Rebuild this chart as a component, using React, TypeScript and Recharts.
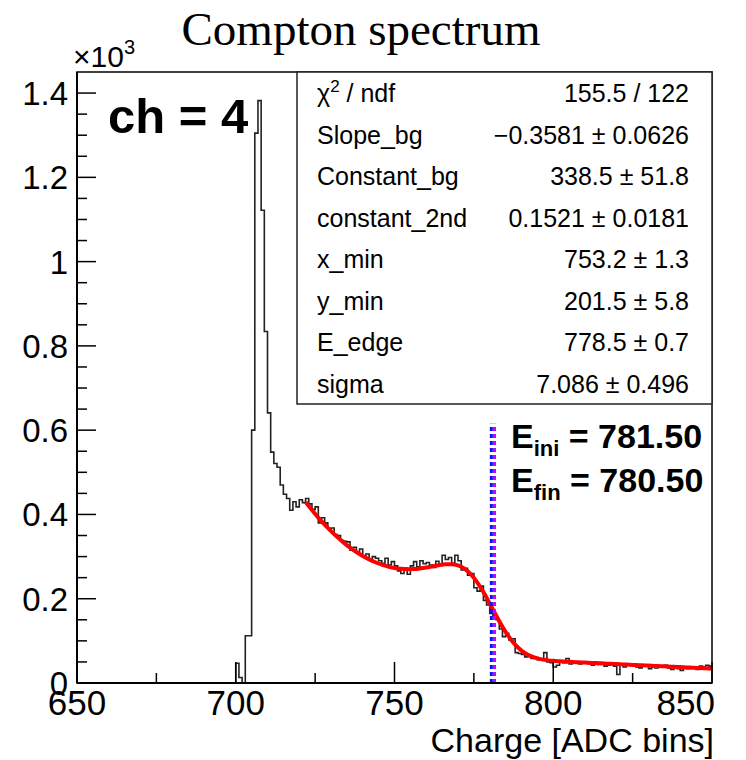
import { ComposedChart, Line, ReferenceLine, XAxis, YAxis } from "recharts";

// histogram: one value per 1-ADC bin, first bin starts at HIST_START
const HIST_START = 699;
const COUNTS = [
  0, 47, 13, 0, 112, 112, 600, 1305, 1382, 1122, 834, 641, 548, 521, 512, 470, 448, 438, 410, 430,
  418, 435, 428, 438, 425, 412, 418, 380, 392, 380, 365, 368, 352, 350, 338, 336, 335, 315, 322, 308,
  318, 300, 306, 292, 300, 296, 290, 284, 296, 280, 288, 278, 266, 260, 273, 258, 278, 288, 276, 290,
  283, 286, 280, 274, 289, 279, 303, 293, 298, 284, 303, 290, 268, 272, 256, 260, 226, 218, 230, 196,
  185, 165, 160, 150, 128, 110, 118, 102, 105, 72, 70, 68, 62, 65, 58, 60, 55, 57, 72, 50,
  48, 38, 42, 52, 48, 58, 45, 50, 48, 45, 50, 48, 46, 42, 50, 44, 47, 40, 42, 45,
  40, 20, 42, 38, 44, 45, 40, 38, 36, 40, 42, 34, 38, 36, 40, 38, 42, 36, 32, 38,
  34, 30, 36, 34, 38, 36, 32, 40, 38, 42, 40,
];

// fitted curve, sampled every 2 ADC bins from FIT_START
const FIT_START = 722;
const FIT = [
  429.5, 410.4, 392.5, 375.9, 360.5, 346.3, 333.2, 321.4, 310.8, 301.5, 293.4, 286.5, 280.8, 276.2,
  273.0, 270.9, 270.0, 270.3, 271.7, 273.9, 276.8, 279.6, 281.8, 282.1, 279.1, 271.6, 258.4, 239.6,
  215.7, 188.5, 160.3, 133.5, 110.0, 91.0, 76.9, 67.1, 60.7, 56.7, 54.3, 52.6, 51.6, 50.7, 49.9,
  49.2, 48.5, 47.7, 47.0, 46.3, 45.6, 44.9, 44.2, 43.4, 42.7, 42.0, 41.3, 40.6, 39.9, 39.1, 38.4,
  37.7, 37.0, 36.3, 35.5, 34.8, 34.1,
];

const E_INI = 781.5;
const E_FIN = 780.5;

const X_TICKS = [650, 675, 700, 725, 750, 775, 800, 825, 850];
const Y_TICKS = [
  0, 50, 100, 150, 200, 250, 300, 350, 400, 450, 500, 550, 600, 650, 700, 750, 800, 850, 900, 950,
  1000, 1050, 1100, 1150, 1200, 1250, 1300, 1350, 1400,
];

const STATS = [
  ["chi", "155.5 / 122"],
  ["Slope_bg", "\u22120.3581 \u00b1 0.0626"],
  ["Constant_bg", "338.5 \u00b1 51.8"],
  ["constant_2nd", "0.1521 \u00b1 0.0181"],
  ["x_min", "753.2 \u00b1 1.3"],
  ["y_min", "201.5 \u00b1 5.8"],
  ["E_edge", "778.5 \u00b1 0.7"],
  ["sigma", "7.086 \u00b1 0.496"],
];

const W = 746;
const H = 760;
const PL = 77;
const PR = 712;
const PT = 72;
const PB = 683;
const SANS = "'Liberation Sans', Arial, Helvetica, sans-serif";
const SERIF = "'Liberation Serif', 'Times New Roman', serif";

type Row = { x: number; count?: number; fit?: number | null };

function buildRows(): Row[] {
  const map = new Map<number, Row>();
  COUNTS.forEach((c, i) => map.set(HIST_START + i, { x: HIST_START + i, count: c, fit: null }));
  map.set(850, { x: 850, count: COUNTS[COUNTS.length - 1], fit: null });
  FIT.forEach((f, i) => {
    const x = FIT_START + 2 * i;
    const r = map.get(x) ?? { x };
    r.fit = f;
    map.set(x, r);
  });
  return Array.from(map.values()).sort((a, b) => a.x - b.x);
}

const rows = buildRows();

function XTick(props: any) {
  const { x, payload } = props;
  const v = payload.value as number;
  const major = v % 50 === 0;
  const last = v === X_TICKS[X_TICKS.length - 1];
  return (
    <g>
      <line x1={x} x2={x} y1={PB} y2={PB - (major ? 21 : 10)} stroke="#000" strokeWidth={1.5} />
      {major && (
        <text
          x={last ? x + 3 : x}
          y={PB + 32}
          textAnchor={last ? "end" : "middle"}
          fontSize={35}
          fontFamily={SANS}
          fill="#000"
        >
          {v}
        </text>
      )}
    </g>
  );
}

function YTick(props: any) {
  const { y, payload } = props;
  const v = payload.value as number;
  const major = v % 200 === 0;
  return (
    <g>
      <line x1={PL} x2={PL + (major ? 19 : 10)} y1={y} y2={y} stroke="#000" strokeWidth={1.5} />
      {major && (
        <text x={68} y={y + 12} textAnchor="end" fontSize={33} fontFamily={SANS} fill="#000">
          {v / 1000}
        </text>
      )}
    </g>
  );
}

function Overlay() {
  return (
    <svg width={W} height={H} style={{ position: "absolute", left: 0, top: 0, pointerEvents: "none" }}>
      <rect x={PL} y={PT} width={PR - PL} height={PB - PT} fill="none" stroke="#000" strokeWidth={1.5} />
      <text x={361} y={45} textAnchor="middle" fontSize={47} fontFamily={SERIF} fill="#000">
        Compton spectrum
      </text>
      <text x={73} y={67} fontSize={30} fontFamily={SANS} fill="#000">
        {"\u00d710"}
        <tspan dy={-13} fontSize={20}>3</tspan>
      </text>
      <text x={108} y={133} fontSize={49} fontWeight="bold" fontFamily={SANS} fill="#000">
        ch = 4
      </text>

      <rect x={297} y={PT} width={PR - 297} height={404 - PT} fill="#fff" stroke="#222" strokeWidth={1.5} />
      {STATS.map(([label, value], i) => {
        const by = 102 + i * 41.5;
        return (
          <g key={label} fontFamily={SANS} fontSize={25} fill="#000">
            {label === "chi" ? (
              <text x={317} y={by}>
                {"\u03c7"}
                <tspan dy={-10} fontSize={17}>2</tspan>
                <tspan dy={10}>{" / ndf"}</tspan>
              </text>
            ) : (
              <text x={317} y={by}>{label}</text>
            )}
            <text x={689} y={by} textAnchor="end">{value}</text>
          </g>
        );
      })}

      <g fontFamily={SANS} fontWeight="bold" fill="#000">
        <text x={511} y={448} fontSize={34}>
          E<tspan dy={8} fontSize={22}>ini</tspan>
          <tspan dy={-8}>{" = 781.50"}</tspan>
        </text>
        <text x={511} y={492} fontSize={34}>
          E<tspan dy={8} fontSize={22}>fin</tspan>
          <tspan dy={-8}>{" = 780.50"}</tspan>
        </text>
      </g>

      <text x={PR + 2} y={752} textAnchor="end" fontSize={34} fontFamily={SANS} fill="#000">
        Charge [ADC bins]
      </text>
    </svg>
  );
}

export default function App() {
  return (
    <div style={{ position: "absolute", left: 0, top: 0, width: W, height: H, background: "#fff" }}>
      <ComposedChart width={W} height={H} data={rows} margin={{ top: PT, right: W - PR, bottom: H - PB - 40, left: 0 }}>
        <XAxis
          dataKey="x"
          type="number"
          domain={[650, 850]}
          ticks={X_TICKS}
          interval={0}
          tick={<XTick />}
          tickLine={false}
          tickSize={0}
          height={40}
          axisLine={{ stroke: "#000", strokeWidth: 2 }}
          allowDataOverflow
        />
        <YAxis
          type="number"
          domain={[0, 1450]}
          ticks={Y_TICKS}
          interval={0}
          tick={<YTick />}
          tickLine={false}
          tickSize={0}
          width={PL}
          axisLine={{ stroke: "#000", strokeWidth: 2 }}
          allowDataOverflow
        />
        <Line
          dataKey="count"
          type="stepAfter"
          stroke="#222"
          strokeWidth={1.6}
          dot={false}
          connectNulls
          isAnimationActive={false}
        />
        <Line
          dataKey="fit"
          type="monotone"
          stroke="#ff0000"
          strokeWidth={4}
          dot={false}
          connectNulls
          isAnimationActive={false}
        />
        <ReferenceLine
          segment={[{ x: E_FIN, y: 0 }, { x: E_FIN, y: 615 }]}
          stroke="#1010ff"
          strokeWidth={3}
          strokeDasharray="4 3"
        />
        <ReferenceLine
          segment={[{ x: E_INI, y: 0 }, { x: E_INI, y: 615 }]}
          stroke="#cc00ff"
          strokeWidth={3}
          strokeDasharray="4 3"
        />
      </ComposedChart>
      <Overlay />
    </div>
  );
}
